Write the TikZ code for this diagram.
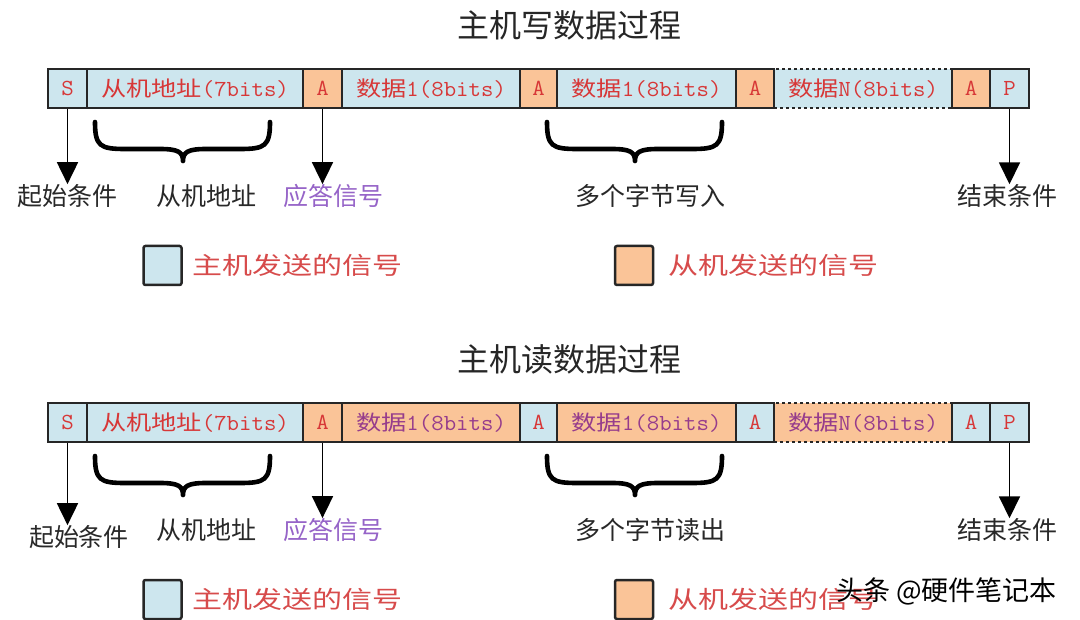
\documentclass[tikz,border=0pt]{standalone}
\usepackage{fontspec}
\usepackage{graphicx}
\setmainfont{Noto Sans CJK SC}
\usetikzlibrary{arrows.meta}
\definecolor{hostblue}{RGB}{205,230,238}
\definecolor{slaveorange}{RGB}{250,196,152}
\definecolor{bitred}{RGB}{215,55,55}
\definecolor{bitpurple}{RGB}{150,60,140}
\definecolor{ackpurple}{RGB}{150,100,200}
\definecolor{legendred}{RGB}{215,75,75}
\definecolor{labelgray}{RGB}{40,40,40}
\newcommand{\bits}[2]{\scalebox{1.2}[1]{#1}\scalebox{1.05}[1]{\fontsize{23}{23}\ttfamily #2}}
\begin{document}
\begin{tikzpicture}[x=1pt,y=-1pt,
  cell/.style={draw=black!85, line width=1.6pt, minimum height=39pt, inner sep=0pt, font=\fontsize{21}{21}\selectfont},
  heading/.style={font=\fontsize{32}{32}\selectfont, text=black!85},
  note/.style={font=\fontsize{25}{25}\selectfont, text=labelgray, inner sep=0pt},
  legendbox/.style={draw=black!85, line width=2.5pt, rounded corners=2pt, minimum width=38pt, minimum height=39pt, inner sep=0pt},
  legendtext/.style={font=\fontsize{24}{24}\selectfont, text=legendred, anchor=west, inner sep=0pt},
  pointer/.style={line width=1.8pt, -{Triangle[width=21pt,length=22pt]}},
  curly/.style={line width=4.6pt, line cap=round, line join=round}]
\path[use as bounding box, fill=white] (0,0) rectangle (1080,620);

% write frame
\foreach \n/\xa/\xb/\bg/\fg/\ln/\txt in {
  N/774/952/hostblue/bitred/dashed/{\bits{数据}{N(8bits)}},
  s/48/87/hostblue/bitred/solid/{\bits{}{S}},
  addr/87/303/hostblue/bitred/solid/{\bits{从机地址}{(7bits)}},
  a/303/342/slaveorange/bitred/solid/{\bits{}{A}},
  d/342/520/hostblue/bitred/solid/{\bits{数据}{1(8bits)}},
  b/520/557/slaveorange/bitred/solid/{\bits{}{A}},
  e/557/736/hostblue/bitred/solid/{\bits{数据}{1(8bits)}},
  c/736/774/slaveorange/bitred/solid/{\bits{}{A}},
  f/952/990/slaveorange/bitred/solid/{\bits{}{A}},
  p/990/1029/hostblue/bitred/solid/{\bits{}{P}}}{
  \pgfmathsetmacro\w{\xb-\xa}
  \pgfmathsetmacro\m{(\xa+\xb)/2}
  \node[cell, fill=\bg, text=\fg, \ln, minimum width=\w pt] (w-\n) at (\m,88.5) {\txt};
}

% read frame
\foreach \n/\xa/\xb/\bg/\fg/\ln/\txt in {
  N/774/952/slaveorange/bitpurple/dashed/{\bits{数据}{N(8bits)}},
  s/48/87/hostblue/bitred/solid/{\bits{}{S}},
  addr/87/303/hostblue/bitred/solid/{\bits{从机地址}{(7bits)}},
  a/303/342/slaveorange/bitred/solid/{\bits{}{A}},
  d/342/520/slaveorange/bitpurple/solid/{\bits{数据}{1(8bits)}},
  b/520/557/hostblue/bitred/solid/{\bits{}{A}},
  e/557/736/slaveorange/bitpurple/solid/{\bits{数据}{1(8bits)}},
  c/736/774/hostblue/bitred/solid/{\bits{}{A}},
  f/952/990/hostblue/bitred/solid/{\bits{}{A}},
  p/990/1029/hostblue/bitred/solid/{\bits{}{P}}}{
  \pgfmathsetmacro\w{\xb-\xa}
  \pgfmathsetmacro\m{(\xa+\xb)/2}
  \node[cell, fill=\bg, text=\fg, \ln, minimum width=\w pt] (r-\n) at (\m,422.5) {\txt};
}

\foreach \r/\dy/\vt/\vb/\sx/\sy in {w/0/写/写入/67/196, r/334/读/读出/79/203}{
\begin{scope}[yshift={-\dy pt}]
\node[heading] (\r-title) at (569,25) {主机\vt 数据过程};

\node[note] (\r-start) at (\sx,\sy) {起始条件};
\node[note] (\r-addrnote) at (206,196) {从机地址};
\node[note, text=ackpurple] (\r-ack) at (333,196) {应答信号};
\node[note] (\r-multi) at (650,196) {多个字节\vb};
\node[note] (\r-stop) at (1007,196) {结束条件};

\draw[pointer] (\r-s.south) -- (\r-s.south |- \r-start.north);
\draw[pointer] (\r-a.south) -- (\r-a.south |- \r-ack.north);
\draw[pointer] (\r-p.south) -- (\r-p.south |- \r-stop.north);

\foreach \bx in {0,452}
  \draw[curly, xshift=\bx pt] (95,122) .. controls (95,146) and (100,149) .. (125,149) -- (160,149)
    .. controls (178,149) and (183,152) .. (183,161) .. controls (183,152) and (188,149) .. (206,149)
    -- (240,149) .. controls (265,149) and (270,146) .. (270,122);

\node[legendbox, fill=hostblue] (\r-keyhost) at (162.5,265.5) {};
\node[legendtext] (\r-keyhosttext) at (192,265) {\scalebox{1.25}[1]{主机发送的信号}};
\node[legendbox, fill=slaveorange] (\r-keyslave) at (634,265.5) {};
\node[legendtext] (\r-keyslavetext) at (668,265) {\scalebox{1.25}[1]{从机发送的信号}};
\end{scope}
}

\node[font=\fontsize{27}{27}\selectfont, anchor=west, inner sep=0pt] (mark) at (836,591) {头条 @硬件笔记本};
\end{tikzpicture}
\end{document}
